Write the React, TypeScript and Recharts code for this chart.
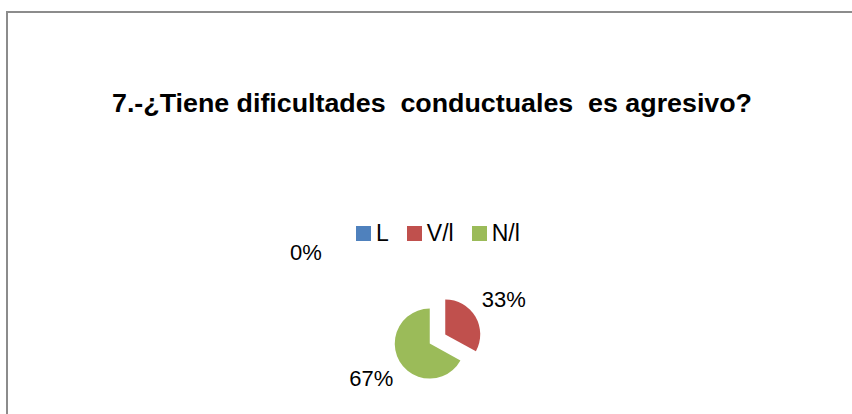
import React from 'react';
import { PieChart, Pie, Cell } from 'recharts';

const categories = ['L', 'V/l', 'N/l'];
const values = [0, 33, 67];
const colors = ['#4F81BD', '#C0504D', '#9BBB59'];
const title = '7.-\u00BFTiene dificultades\u00A0 conductuales\u00A0 es agresivo?';

const data = categories.map((name, i) => ({ name, value: values[i] }));

const W = 852;
const H = 414;
const CX = 437.5;
const CY = 339;
const R = 35;
const EXPLODE = 9;
const LABEL_R = 77;
const ZERO_LABEL_OFFSET = [-131.5, -86.5];
const FONT = '"Liberation Sans", Arial, sans-serif';

const total = values.reduce((a, b) => a + b, 0);
const START = 90;
const midAngles: number[] = [];
{
  let acc = 0;
  values.forEach((v) => {
    const a0 = START - (acc / total) * 360;
    acc += v;
    const a1 = START - (acc / total) * 360;
    midAngles.push((a0 + a1) / 2);
  });
}
const RAD = Math.PI / 180;

const makeLabel = (own: number) => (props: any) => {
  const { index, percent } = props;
  if (index !== own) return null;
  let x: number;
  let y: number;
  if (values[own] === 0) {
    x = CX + ZERO_LABEL_OFFSET[0];
    y = CY + ZERO_LABEL_OFFSET[1];
  } else {
    const m = midAngles[own];
    x = CX + LABEL_R * Math.cos(m * RAD);
    y = CY - LABEL_R * Math.sin(m * RAD);
  }
  return (
    <text
      x={x}
      y={y}
      textAnchor="middle"
      dominantBaseline="central"
      fill="#000"
      style={{ fontFamily: FONT, fontSize: 22 }}
    >
      {`${Math.round((percent || 0) * 100)}%`}
    </text>
  );
};

const LegendContent = () => (
  <div style={{ display: 'flex', alignItems: 'center', fontFamily: FONT, fontSize: 23, color: '#000' }}>
    {categories.map((c, i) => (
      <div key={c} style={{ display: 'flex', alignItems: 'center', marginRight: 18 }}>
        <div style={{ width: 15, height: 15, background: colors[i], marginRight: 5 }} />
        <span style={{ lineHeight: '24px' }}>{c}</span>
      </div>
    ))}
  </div>
);

export default function App() {
  return (
    <div style={{ position: 'absolute', left: 0, top: 0, width: W, height: H, overflow: 'hidden', background: '#fff' }}>
      <div
        style={{
          position: 'absolute',
          left: 6,
          top: 11,
          width: 900,
          height: 500,
          border: '2px solid #8c8c8c',
          boxSizing: 'border-box',
        }}
      />
      <svg width={W} height={H} style={{ position: 'absolute', left: 0, top: 0 }}>
        <text
          x={432}
          y={112}
          textAnchor="middle"
          textLength={640}
          lengthAdjust="spacingAndGlyphs"
          style={{ fontFamily: FONT, fontSize: 26, fontWeight: 'bold' }}
          fill="#000"
        >
          {title}
        </text>
      </svg>
      <div style={{ position: 'absolute', left: 0, top: 0 }}>
        <PieChart width={W} height={H} margin={{ top: 0, right: 0, bottom: 0, left: 0 }}>
          {categories.map((c, own) => {
            const m = midAngles[own];
            const cx = CX + EXPLODE * Math.cos(m * RAD);
            const cy = CY - EXPLODE * Math.sin(m * RAD);
            return (
              <Pie
                key={c}
                data={data}
                dataKey="value"
                nameKey="name"
                cx={cx}
                cy={cy}
                outerRadius={R}
                startAngle={START}
                endAngle={START - 360}
                isAnimationActive={false}
                stroke="none"
                labelLine={false}
                label={makeLabel(own)}
                legendType="none"
              >
                {data.map((d, i) => (
                  <Cell key={d.name} fill={i === own ? colors[i] : 'transparent'} stroke="none" />
                ))}
              </Pie>
            );
          })}
        </PieChart>
      </div>
      <div style={{ position: 'absolute', left: 356, top: 221 }}>
        <LegendContent />
      </div>
    </div>
  );
}
